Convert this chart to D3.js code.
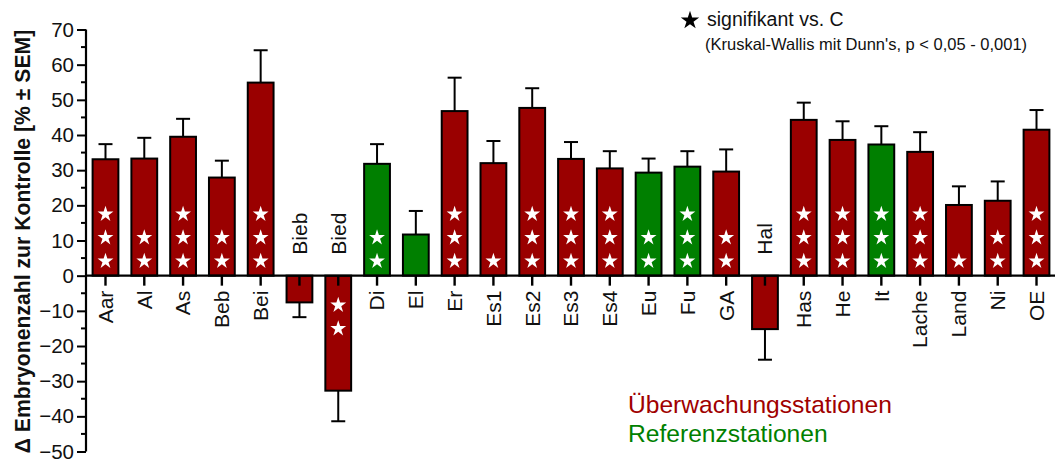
<!DOCTYPE html>
<html>
<head>
<meta charset="utf-8">
<script src="https://cdn.jsdelivr.net/npm/d3@7"></script>
<style>
  html, body { margin: 0; padding: 0; background: #fff; }
  svg { display: block; font-family: Arial, "Liberation Sans", sans-serif; }
</style>
</head>
<body>
<svg id="chart" width="1055" height="461"></svg>
<script>
// Station codes
const stations = ["Aar","Al","As","Beb","Bei","Bieb","Bied","Di","El","Er","Es1","Es2","Es3","Es4",
                  "Eu","Fu","GA","Hal","Has","He","It","Lache","Land","Ni","OE"];
// Mean change in embryo count vs. control [%]
const means = [33.1,33.3,39.5,27.9,54.9,-7.6,-32.7,31.8,11.7,46.8,32.0,47.7,33.2,30.5,
               29.3,31.0,29.6,-15.2,44.3,38.6,37.3,35.2,20.1,21.3,41.5];
// Mean ± SEM (upper end for positive, lower end for negative bars)
const errEnds = [37.4,39.2,44.6,32.7,64.1,-11.8,-41.4,37.4,18.4,56.3,38.3,53.3,38.0,35.4,
                 33.3,35.4,35.9,-23.9,49.2,43.9,42.5,40.8,25.4,26.8,47.1];
// Station type: "M" = monitoring station, "R" = reference station
const types = ["M","M","M","M","M","M","M","R","R","M","M","M","M","M",
               "R","R","M","M","M","M","R","M","M","M","M"];
// Number of significance stars
const stars = [3,2,3,2,3,0,2,2,0,3,1,3,3,3,2,3,2,0,3,3,3,3,1,2,3];
// Axis ticks
const yTicks = [70,60,50,40,30,20,10,0,-10,-20,-30,-40,-50];

const RED = "#9a0000", GREEN = "#007f00";
const svg = d3.select("#chart");

const x = d3.scaleBand().domain(stations).range([86, 1056]).paddingInner(0.335).paddingOuter(0.17);
const y = d3.scaleLinear().domain([-50, 70]).range([451.5, 29.5]);

// y axis: major ticks every 10, minor every 5
const yAxis = d3.axisLeft(y).tickValues(yTicks).tickSize(9).tickPadding(3).tickFormat(d3.format("d"));
const gy = svg.append("g").attr("transform", "translate(86,0)").call(yAxis);
gy.select(".domain").attr("stroke-width", 2.2).attr("d", `M0,${y(70)}V${y(-50)}`);
gy.selectAll(".tick line").attr("stroke-width", 2);
gy.selectAll(".tick text").attr("font-size", 20.5).attr("fill", "#111").attr("font-family", "Arial, 'Liberation Sans', sans-serif");
svg.append("g").selectAll("line").data(d3.range(-45, 70, 10)).join("line")
  .attr("x1", 81).attr("x2", 86).attr("y1", d => y(d)).attr("y2", d => y(d))
  .attr("stroke", "#000").attr("stroke-width", 2);

// Bars
const bars = svg.append("g");
bars.selectAll("rect").data(stations).join("rect")
  .attr("x", d => x(d))
  .attr("width", x.bandwidth())
  .attr("y", (d, i) => y(Math.max(0, means[i])))
  .attr("height", (d, i) => Math.abs(y(means[i]) - y(0)))
  .attr("fill", (d, i) => types[i] === "R" ? GREEN : RED)
  .attr("stroke", "#000").attr("stroke-width", 2);

// Error bars (one-sided)
const eb = svg.append("g").attr("stroke", "#000").attr("stroke-width", 2);
stations.forEach((s, i) => {
  const cx = x(s) + x.bandwidth() / 2;
  eb.append("line").attr("x1", cx).attr("x2", cx).attr("y1", y(means[i])).attr("y2", y(errEnds[i]));
  eb.append("line").attr("x1", cx - 7).attr("x2", cx + 7).attr("y1", y(errEnds[i])).attr("y2", y(errEnds[i]));
});

// x axis line at zero with ticks
const xAxis = d3.axisBottom(x).tickSize(10).tickFormat("");
const gx = svg.append("g").attr("transform", `translate(0,${y(0)})`).call(xAxis);
gx.select(".domain").attr("stroke-width", 2.4).attr("d", "M86,0H1056");
gx.selectAll(".tick line").attr("stroke-width", 2.4);

// Significance stars
const star = d3.symbol().type(d3.symbolStar).size(78);
const starG = svg.append("g").attr("fill", "#fff");
stations.forEach((s, i) => {
  const cx = x(s) + x.bandwidth() / 2;
  for (let k = 0; k < stars[i]; k++) {
    const cy = means[i] >= 0 ? y(0) - 15.5 - 23.5 * k : y(0) + 28.5 + 23.5 * k;
    starG.append("path").attr("d", star()).attr("transform", `translate(${cx},${cy + 1})`);
  }
});

// Station labels
svg.append("g").selectAll("text").data(stations).join("text")
  .attr("transform", (d, i) => {
    const cx = x(d) + x.bandwidth() / 2;
    const yy = means[i] >= 0 ? y(0) + 15 : y(0) - 21;
    return `translate(${cx},${yy}) rotate(-90)`;
  })
  .attr("dy", "0.35em")
  .attr("text-anchor", (d, i) => means[i] >= 0 ? "end" : "start")
  .attr("font-size", 21).attr("fill", "#111")
  .text(d => d);

// y axis title
svg.append("text")
  .attr("transform", `translate(30,${(y(70) + y(-50)) / 2 + 1}) rotate(-90)`)
  .attr("text-anchor", "middle")
  .attr("font-size", 21.2).attr("font-weight", "bold").attr("fill", "#111")
  .text("Δ Embryonenzahl zur Kontrolle [% ± SEM]");

// Significance note
svg.append("path").attr("d", d3.symbol().type(d3.symbolStar).size(105)()).attr("transform", "translate(690,20.5)").attr("fill", "#000");
svg.append("text").attr("x", 707).attr("y", 26).attr("font-size", 19.5).attr("fill", "#111").text("signifikant vs. C");
svg.append("text").attr("x", 705).attr("y", 50).attr("font-size", 16.5).attr("fill", "#111")
  .text("(Kruskal-Wallis mit Dunn's, p < 0,05 - 0,001)");

// Station type legend
svg.append("text").attr("x", 628).attr("y", 413).attr("font-size", 24.6).attr("fill", "#a00000").text("Überwachungsstationen");
svg.append("text").attr("x", 628).attr("y", 441.5).attr("font-size", 24.6).attr("fill", "#008000").text("Referenzstationen");
</script>
</body>
</html>
